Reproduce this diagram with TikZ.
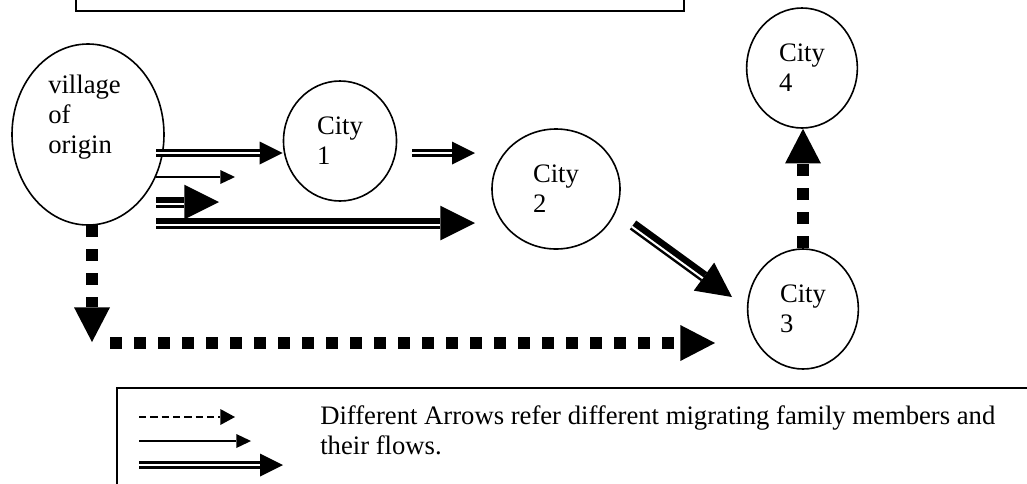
\documentclass[tikz,border=0pt]{standalone}
\usepackage{fontspec}
\setmainfont{Liberation Serif}
\usetikzlibrary{positioning, arrows.meta, shapes.geometric}
\tikzset{%
	box/.style = {line width = 1.5pt},
	town/.style = {ellipse, draw, line width = 1.2pt, inner sep = 0pt, minimum width = 114pt, minimum height = 135.75pt},
	city/.style = {ellipse, draw, line width = 1.2pt, inner sep = 0pt, minimum height = 90pt, align = left},
	flow/.style = {line width = 5.5pt, -{Triangle[length = 17.25pt, width = 17.25pt, line width = 0pt]},
		postaction = {draw = white, line width = 1.5pt, -, shorten > = 17.25pt}},
	single/.style = {line width = 1.1pt, -{Triangle[length = 11pt, width = 10.5pt, line width = 0pt]}},
	heavy/.style = {line width = 8.25pt, -{Triangle[length = 26pt, width = 26pt, line width = 0pt]},
		postaction = {draw = white, line width = 1.5pt, -, shorten > = 26pt, transform canvas = {shift = {#1}}}},
	heavy/.default = {(0,2)},
	dots/.style = {line width = 9pt, dash pattern = on 9pt off 9pt, -{Triangle[length = 26pt, width = 27pt, line width = 0pt]}},
	faint/.style = {line width = 1pt, dash pattern = on 5.5pt off 3pt, -{Triangle[length = 11pt, width = 12pt, line width = 0pt]}}
}

\begin{document}
\begin{tikzpicture}[x=0.75pt, y=-0.75pt, every node/.style = {font = \fontsize{20pt}{22.5pt}\selectfont}]
			\useasboundingbox (0,0) rectangle (1027,483);
			\draw [box] (76,-20) rectangle (684,11);
			\node [town, label = {[align = left, xshift = -2.6pt, yshift = 13pt]center:village\\of\\origin}] (village) at (88,134.5) {};
			\node [city, minimum width = 84.75pt] (c1) at (340,141) {City\\1};
			\node [city, minimum width = 96pt] (c2) at (556,189) {City\\2};
			\node [city, minimum width = 83pt] (c3) at (803,309) {City\\3};
			\node [city, minimum width = 83pt] (c4) at (802,68) {City\\4};
			\coordinate (v1) at (156,153);
			\coordinate (v2) at (156,177);
			\coordinate (v2e) at (235,177);
			\coordinate (v3) at (156,202);
			\coordinate (v3e) at (219,202);
			\coordinate (v4) at (156,223);
			\coordinate (v4e) at (475,223);
			\coordinate (c1o) at (412,153);
			\coordinate (c2i) at (475,153);
			\coordinate (c2o) at (633,225);
			\coordinate (c3i) at (732,297);
			\coordinate (vd) at (92,225);
			\coordinate (vde) at (92,342);
			\coordinate (hs) at (110,343);
			\coordinate (he) at (715,343);
			\draw [flow] (v1) -- (v1 -| c1.west);
			\draw [flow] (c1o) -- (c2i);
			\draw [single] (v2) -- (v2e);
			\draw [heavy] (v3) -- (v3e);
			\draw [heavy] (v4) -- (v4e);
			\draw [heavy = {(-1.2,1.6)}] (c2o) -- (c3i);
			\draw [dots] (vd) -- (vde);
			\draw [dots] (hs) -- (he);
			\draw [dots] (c3.north) -- (c3.north |- c4.south);
			% legend
			\draw [box] (117,388) rectangle (1040,500);
			\coordinate (k1) at (139,417);
			\coordinate (k1e) at (235,417);
			\coordinate (k2) at (139,441);
			\coordinate (k2e) at (251,441);
			\coordinate (k3) at (139,465);
			\coordinate (k3e) at (283,465);
			\draw [faint] (k1) -- (k1e);
			\draw [single] (k2) -- (k2e);
			\draw [flow] (k3) -- (k3e);
			\node [anchor = north west, inner sep = 0pt, align = left] (note) at (320,405) {Different Arrows refer different migrating family members and\\their flows.};
\end{tikzpicture}
\end{document}
